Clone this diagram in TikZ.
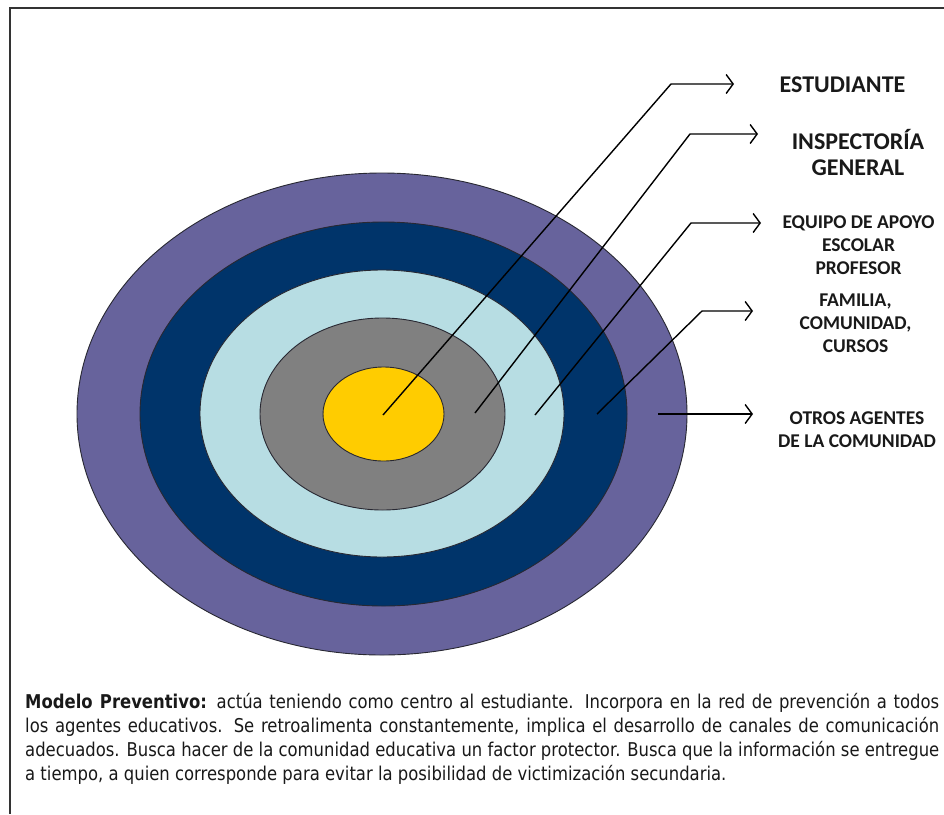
\documentclass[tikz,border=0pt]{standalone}
\usepackage{fontspec}
\usepackage{graphicx}
\setmainfont{DejaVu Sans}
\newfontfamily\labfont{Carlito}
\usetikzlibrary{shapes.geometric,arrows.meta}
\definecolor{cOuter}{RGB}{103,99,156}
\definecolor{cDark}{RGB}{0,52,106}
\definecolor{cLight}{RGB}{183,221,227}
\definecolor{cGray}{RGB}{128,128,128}
\definecolor{cYellow}{RGB}{255,204,0}
\definecolor{cEdge}{RGB}{40,40,50}
\definecolor{cText}{RGB}{25,25,25}
\newcommand\parafont{\fontsize{19}{22}\selectfont}
\newlength\Lthree
\AtBeginDocument{%
  \settowidth\Lthree{\parafont adecuados. Busca hacer de la comunidad educativa un factor protector. Busca que la información se entregue}%
  \pgfmathsetmacro\fac{914/\Lthree}%
}
\tikzset{
  ring/.style={ellipse, draw=cEdge, line width=0.9pt, inner sep=0pt},
  conn/.style={draw=black, line width=1.4pt, -{Straight Barb[length=7pt,width=19pt,line width=1.4pt]}},
  labA/.style={font=\labfont\bfseries\fontsize{24}{25}\selectfont, align=center, inner sep=0pt, text=cText},
  labB/.style={font=\labfont\bfseries\fontsize{19.5}{23}\selectfont, align=center, inner sep=0pt, text=cText},
  para/.style={anchor=base west, inner sep=0pt, font=\parafont, text=cText},
  frame/.style={draw=black!80, line width=2pt}
}
\begin{document}
\begin{tikzpicture}[x=1pt,y=-1pt]
\useasboundingbox (0,0) rectangle (944,814);
\fill[white] (0,0) rectangle (944,814);
% frame
\coordinate (fTL) at (9.5,7.5);
\coordinate (fTR) at (944,7.5);
\coordinate (fBL) at (9.5,814);
\draw[frame] (fTR) -- (fTL) -- (fBL);
% target rings
\node[ring, fill=cOuter, minimum width=610pt, minimum height=482pt] (outer) at (382,414) {};
\node[ring, fill=cDark, minimum width=487pt, minimum height=384pt] (dark) at (383.5,414) {};
\node[ring, fill=cLight, minimum width=364pt, minimum height=287pt] (light) at (382,413.5) {};
\node[ring, fill=cGray, minimum width=245pt, minimum height=192pt] (gray) at (382.5,414) {};
\node[ring, fill=cYellow, minimum width=121pt, minimum height=94pt] (yellow) at (383.5,414) {};
% start points
\coordinate (s1) at (383,415);
\coordinate (s2) at (475,413);
\coordinate (s3) at (535,415);
\coordinate (s4) at (597,414);
\coordinate (s5) at (658,414);
% elbows
\coordinate (e1) at (671,84);
\coordinate (e2) at (690,134);
\coordinate (e3) at (691,223);
\coordinate (e4) at (702,311);
% tips
\coordinate (t1) at (734,84);
\coordinate (t2) at (758,134);
\coordinate (t3) at (761,223);
\coordinate (t4) at (753,311);
\coordinate (t5) at (753,414);
% labels
\node[labA] (l1) at (842.5,84.5) {ESTUDIANTE};
\node[labA] (l2) at (858,152.5) {INSPECTORÍA\\GENERAL};
\node[labB] (l3) at (858.5,245) {EQUIPO DE APOYO\\ESCOLAR\\PROFESOR};
\node[labB] (l4) at (855.5,323) {FAMILIA,\\COMUNIDAD,\\CURSOS};
\node[labB] (l5) at (857,430) {OTROS AGENTES\\DE LA COMUNIDAD};
% connectors
\draw[conn] (s1) -- (e1) -- (t1);
\draw[conn] (s2) -- (e2) -- (t2);
\draw[conn] (s3) -- (e3) -- (t3);
\draw[conn] (s4) -- (e4) -- (t4);
\draw[conn] (s5) -- (t5);
% paragraph
\node[para] (p1) at (25,708) {\scalebox{\fac}[1]{\makebox[\Lthree][s]{\textbf{Modelo Preventivo:} actúa teniendo como centro al estudiante. Incorpora en la red de prevención a todos}}};
\node[para] (p2) at (25,732) {\scalebox{\fac}[1]{\makebox[\Lthree][s]{los agentes educativos. Se retroalimenta constantemente, implica el desarrollo de canales de comunicación}}};
\node[para] (p3) at (25,756) {\scalebox{\fac}[1]{\makebox[\Lthree][s]{adecuados. Busca hacer de la comunidad educativa un factor protector. Busca que la información se entregue}}};
\node[para] (p4) at (25,780) {\scalebox{\fac}[1]{a tiempo, a quien corresponde para evitar la posibilidad de victimización secundaria.}};
\end{tikzpicture}
\end{document}
